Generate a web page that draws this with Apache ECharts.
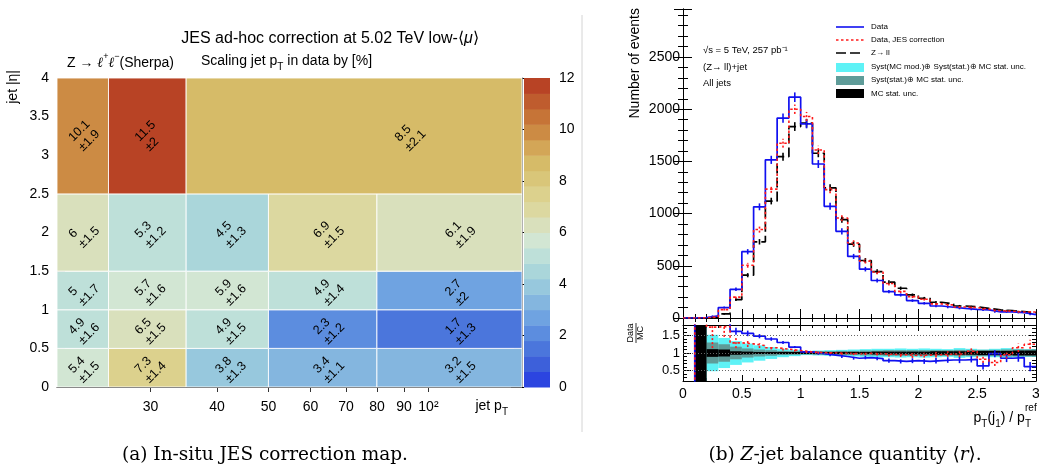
<!DOCTYPE html>
<html><head><meta charset="utf-8">
<script src="https://cdn.jsdelivr.net/npm/echarts@6/dist/echarts.min.js"></script>
<style>html,body{margin:0;padding:0;background:#fff}#c{width:1039px;height:473px}</style>
</head><body><div id="c"></div>
<script>
// ================= (a) JES ad-hoc correction map =================
const etaBinEdges = [0, 0.5, 1, 1.5, 2.5, 4];
const ptBinEdges = [20, 25, 35, 50, 80, 150];        // |eta| < 2.5 rows
const ptBinEdgesTop = [20, 25, 35, 150];             // 2.5 < |eta| < 4 row
const corrValue = [
  [5.4, 7.3, 3.8, 3.4, 3.2],
  [4.9, 6.5, 4.9, 2.3, 1.7],
  [5, 5.7, 5.9, 4.9, 2.7],
  [6, 5.3, 4.5, 6.9, 6.1],
  [10.1, 11.5, 8.5]
];
const corrError = [
  [1.5, 1.4, 1.3, 1.1, 1.5],
  [1.6, 1.5, 1.5, 1.2, 1.3],
  [1.7, 1.6, 1.6, 1.4, 2],
  [1.5, 1.2, 1.3, 1.5, 1.9],
  [1.9, 2, 2.1]
];
const ptTicks = [30, 40, 50, 60, 70, 80, 90, 100];
const colorLevels = [0, 0.6, 1.2, 1.8, 2.4, 3, 3.6, 4.2, 4.8, 5.4, 6, 6.6, 7.2, 7.8, 8.4, 9, 9.6, 10.2, 10.8, 11.4, 12];
const levelColors = ['#2c45e0', '#3d60da', '#4b76dc', '#5c8ddf', '#6fa3e1', '#84b6df', '#97c8dd', '#aad6da', '#bee0d9', '#d2e6d3',
  '#d9e0bc', '#dcd8a0', '#dcd18d', '#d9c679', '#d6bb68', '#d3a657', '#cc8b44', '#c67437', '#bf5c2e', '#b84325'];

// ================= (b) Z-jet balance =================
const rEdges = [0, 0.1, 0.2, 0.3, 0.4, 0.5, 0.6, 0.7, 0.8, 0.9, 1.0, 1.1, 1.2, 1.3, 1.4, 1.5, 1.6, 1.7, 1.8, 1.9, 2.0, 2.1, 2.2, 2.3, 2.4, 2.5, 2.6, 2.7, 2.8, 2.9, 3.0];
const dataEvents = [0, 5, 20, 100, 275, 635, 1065, 1515, 1915, 2115, 1860, 1475, 1070, 830, 590, 468, 359, 253, 221, 167, 141, 115, 103, 93, 83, 77, 58, 58, 51, 32];
const dataErr = [0, 3, 5, 10, 17, 25, 33, 39, 44, 46, 43, 38, 33, 29, 24, 22, 19, 16, 15, 13, 12, 11, 10, 10, 9, 9, 8, 8, 7, 6];
const jesEvents = [0, 2, 10, 80, 200, 505, 848, 1235, 1674, 2000, 1930, 1610, 1230, 958, 718, 545, 440, 330, 255, 205, 180, 135, 125, 105, 100, 85, 70, 65, 58, 58];
const jesErr = [0, 2, 4, 9, 15, 23, 30, 36, 42, 45, 44, 40, 35, 31, 27, 23, 21, 18, 16, 14, 13, 12, 11, 10, 10, 9, 8, 8, 8, 8];
const mcEvents = [0, 1, 5, 40, 176, 410, 730, 1120, 1545, 1834, 1866, 1578, 1247, 942, 708, 551, 445, 343, 285, 221, 189, 151, 135, 115, 107, 93, 77, 71, 61, 51];
const mcErr = [0, 1, 3, 8, 14, 20, 26, 32, 38, 42, 42, 38, 34, 30, 26, 23, 21, 18, 16, 14, 13, 12, 11, 10, 10, 9, 8, 8, 7, 7];
const ratioData = [0, 3, 3, 3, 1.62, 1.56, 1.48, 1.40, 1.30, 1.17, 1.03, 0.98, 0.94, 0.90, 0.85, 0.87, 0.84, 0.78, 0.76, 0.78, 0.76, 0.78, 0.80, 0.80, 0.82, 0.63, 0.98, 0.85, 0.87, 0.61];
const ratioDataErr = [0, 0, 0, 0, 0.1, 0.08, 0.06, 0.05, 0.04, 0.03, 0.03, 0.03, 0.03, 0.04, 0.04, 0.05, 0.05, 0.06, 0.06, 0.07, 0.07, 0.08, 0.08, 0.09, 0.09, 0.1, 0.1, 0.11, 0.12, 0.13];
const ratioJes = [0, 3, 1.74, 1.76, 1.29, 1.26, 1.21, 1.15, 1.11, 1.07, 1.03, 1.01, 1.0, 0.99, 0.98, 0.99, 0.98, 0.96, 0.95, 0.93, 0.94, 0.95, 0.97, 0.97, 1.05, 0.82, 0.73, 0.95, 1.15, 1.25];
const ratioJesErr = [0, 0, 0.6, 0.3, 0.15, 0.09, 0.07, 0.05, 0.04, 0.03, 0.03, 0.03, 0.03, 0.04, 0.04, 0.05, 0.05, 0.06, 0.06, 0.07, 0.07, 0.08, 0.08, 0.09, 0.09, 0.1, 0.1, 0.11, 0.12, 0.13];
const uncTotal = [0, 0.8, 0.52, 0.43, 0.34, 0.27, 0.22, 0.17, 0.12, 0.09, 0.06, 0.07, 0.08, 0.09, 0.1, 0.11, 0.12, 0.12, 0.13, 0.12, 0.13, 0.12, 0.11, 0.14, 0.12, 0.1, 0.12, 0.14, 0.12, 0.11];
const uncStat = [0, 0.8, 0.3, 0.25, 0.18, 0.13, 0.1, 0.08, 0.06, 0.05, 0.04, 0.05, 0.05, 0.06, 0.06, 0.07, 0.07, 0.08, 0.08, 0.08, 0.08, 0.08, 0.08, 0.09, 0.09, 0.09, 0.09, 0.1, 0.1, 0.1];
const uncMcStat = [0, 0.8, 0.11, 0.1, 0.05, 0.04, 0.03, 0.03, 0.03, 0.03, 0.03, 0.03, 0.03, 0.03, 0.03, 0.03, 0.04, 0.04, 0.04, 0.04, 0.04, 0.05, 0.05, 0.05, 0.05, 0.06, 0.06, 0.06, 0.07, 0.07];
const ratioTicks = [0.5, 1, 1.5];
const ratioMinorTicks = [0.3, 0.4, 0.6, 0.7, 0.8, 0.9, 1.1, 1.2, 1.3, 1.4, 1.6, 1.7];

// ---------------- build helpers ----------------
const FONT = '"Liberation Sans", Arial, Helvetica, sans-serif';
const SERIF = '"DejaVu Serif", "Liberation Serif", serif';
const C_BLUE = '#1010f0', C_RED = '#ff1a1a', C_CYAN = '#5ef2f6', C_TEAL = '#5f9c99';

const heatCells = [];
corrValue.forEach((row, r) => {
  const edges = r === 4 ? ptBinEdgesTop : ptBinEdges;
  row.forEach((v, c) => heatCells.push([edges[c], edges[c + 1], etaBinEdges[r], etaBinEdges[r + 1], v, corrError[r][c]]));
});
const barCells = levelColors.map((_, i) => [0, 1, colorLevels[i], colorLevels[i + 1], (colorLevels[i] + colorLevels[i + 1]) / 2]);
const pieces = levelColors.map((col, i) => ({ gte: colorLevels[i], lt: colorLevels[i + 1], color: col }));
pieces[pieces.length - 1].lte = colorLevels[colorLevels.length - 1]; delete pieces[pieces.length - 1].lt;

function histPts(vals) {
  return vals.map((v, i) => [rEdges[i], v]).concat([[rEdges[rEdges.length - 1], vals[vals.length - 1]]]);
}
function errPts(vals, errs, lo, hi) {
  const out = [];
  vals.forEach((v, i) => {
    if (!errs[i]) return;
    const a = v - errs[i], b = v + errs[i];
    if (b < lo || a > hi) return;
    out.push([(rEdges[i] + rEdges[i + 1]) / 2, Math.max(a, lo), Math.min(b, hi)]);
  });
  return out;
}
function bandCells(hw) {
  const out = [];
  hw.forEach((h, i) => { if (h > 0) out.push([rEdges[i], rEdges[i + 1], 1 - h, 1 + h]); });
  return out;
}
function errSeries(data, color, xi, yi, dash) {
  return {
    type: 'custom', xAxisIndex: xi, yAxisIndex: yi, data: data, clip: true, z: 5,
    encode: { x: 0, y: [1, 2] }, silent: true,
    renderItem: (p, api) => {
      const a = api.coord([api.value(0), api.value(1)]), b = api.coord([api.value(0), api.value(2)]);
      return { type: 'line', shape: { x1: a[0], y1: a[1], x2: b[0], y2: b[1] },
        style: { stroke: color, lineWidth: 1.6, lineDash: dash || null } };
    }
  };
}
function bandSeries(hw, color, z) {
  return {
    type: 'custom', xAxisIndex: 5, yAxisIndex: 5, data: bandCells(hw), z: z, silent: true,
    encode: { x: [0, 1], y: [2, 3] },
    renderItem: (p, api) => {
      const a = api.coord([api.value(0), api.value(2)]), b = api.coord([api.value(1), api.value(3)]);
      return { type: 'rect', shape: { x: a[0], y: b[1], width: b[0] - a[0], height: a[1] - b[1] }, style: { fill: color } };
    }
  };
}
const tk = (len, show) => ({ show: show !== false, inside: true, length: len, lineStyle: { color: '#000', width: 1 } });
const noLbl = { show: false };
const noSplit = { show: false };
const plain = v => String(v);
function valAxis(o) {
  return Object.assign({ type: 'value', splitLine: noSplit, minorSplitLine: noSplit, axisLabel: noLbl,
    axisLine: { show: true, lineStyle: { color: '#000', width: 1 } } }, o);
}
const SUBRICH = (fs, lh) => ({
  n: { fontSize: fs, lineHeight: lh, verticalAlign: 'top', fontFamily: FONT, fill: '#000' },
  s: { fontSize: Math.round(fs * 0.7), lineHeight: Math.round(fs * 0.75), verticalAlign: 'bottom', fontFamily: FONT, fill: '#000' }
});

// ---------------- option ----------------
const option = {
  animation: false,
  backgroundColor: '#fff',
  textStyle: { fontFamily: FONT, color: '#000' },
  grid: [
    { left: 57, top: 78, width: 465, height: 309, outerBoundsMode: 'none', containLabel: false },
    { left: 524, top: 78, width: 26, height: 309, outerBoundsMode: 'none', containLabel: false },
    { left: 683, top: 9, width: 353, height: 309, outerBoundsMode: 'none', containLabel: false },
    { left: 683, top: 325, width: 353, height: 56, outerBoundsMode: 'none', containLabel: false }
  ],
  visualMap: {
    type: 'piecewise', show: false, seriesIndex: [0, 1], dimension: 4, pieces: pieces
  },
  xAxis: [
    { type: 'log', logBase: 10, gridIndex: 0, min: 20, max: 150, position: 'bottom',
      axisLine: { show: false }, splitLine: noSplit, minorTick: { show: false },
      axisTick: Object.assign(tk(5), { customValues: ptTicks, lineStyle: { color: '#333' } }),
      axisLabel: { show: true, customValues: ptTicks, fontSize: 14, color: '#000', margin: 13, fontFamily: FONT,
        formatter: v => (Math.abs(v - 100) < 1e-6 ? '10²' : String(Math.round(v))) } },
    { type: 'log', logBase: 10, gridIndex: 0, min: 20, max: 150, position: 'top',
      axisLine: { show: true, lineStyle: { color: '#333' } }, splitLine: noSplit, minorTick: { show: false },
      axisTick: Object.assign(tk(5), { customValues: ptTicks, lineStyle: { color: '#333' } }),
      axisLabel: noLbl },
    { type: 'value', gridIndex: 1, min: 0, max: 1, show: false },
    valAxis({ gridIndex: 2, min: 0, max: 3, interval: 0.5, position: 'bottom', axisTick: tk(9), minorTick: Object.assign(tk(4), { splitNumber: 5 }) }),
    valAxis({ gridIndex: 2, min: 0, max: 3, interval: 0.5, position: 'top', axisTick: tk(9), minorTick: Object.assign(tk(4), { splitNumber: 5 }) }),
    valAxis({ gridIndex: 3, min: 0, max: 3, interval: 0.5, position: 'bottom', axisTick: tk(6), minorTick: Object.assign(tk(3), { splitNumber: 5 }),
      axisLabel: { show: true, fontSize: 14, color: '#000', margin: 6, fontFamily: FONT, formatter: plain } }),
    valAxis({ gridIndex: 3, min: 0, max: 3, interval: 0.5, position: 'top', axisTick: tk(6), minorTick: Object.assign(tk(3), { splitNumber: 5 }) })
  ],
  yAxis: [
    valAxis({ gridIndex: 0, min: 0, max: 4, interval: 0.5, position: 'left', axisLine: { show: false },
      axisTick: Object.assign(tk(8), { lineStyle: { color: '#333' } }), minorTick: Object.assign(tk(4), { splitNumber: 5, lineStyle: { color: '#333' } }),
      axisLabel: { show: true, fontSize: 14, color: '#000', margin: 8, fontFamily: FONT, formatter: plain } }),
    valAxis({ gridIndex: 0, min: 0, max: 4, interval: 0.5, position: 'right', axisLine: { show: true, lineStyle: { color: '#777' } },
      axisTick: Object.assign(tk(8), { lineStyle: { color: '#333' } }), minorTick: Object.assign(tk(4), { splitNumber: 5, lineStyle: { color: '#333' } }) }),
    valAxis({ gridIndex: 1, min: 0, max: 12, interval: 2, position: 'right', axisLine: { show: false },
      axisTick: Object.assign(tk(13), { lineStyle: { color: '#000' } }), minorTick: { show: false },
      axisLabel: { show: true, fontSize: 14, color: '#000', margin: 9, fontFamily: FONT, formatter: plain } }),
    valAxis({ gridIndex: 2, min: 0, max: 2960, interval: 500, position: 'left', axisTick: tk(9), minorTick: Object.assign(tk(5), { splitNumber: 5 }),
      axisLabel: { show: true, fontSize: 14, color: '#000', margin: 3, showMaxLabel: false, fontFamily: FONT, formatter: plain } }),
    valAxis({ gridIndex: 2, min: 0, max: 2960, interval: 500, position: 'right', axisTick: tk(9), minorTick: Object.assign(tk(5), { splitNumber: 5 }) }),
    valAxis({ gridIndex: 3, min: 0.2, max: 1.8, position: 'left',
      axisTick: Object.assign(tk(8), { customValues: ratioTicks }), minorTick: { show: false },
      axisLabel: { show: true, customValues: ratioTicks, fontSize: 13, color: '#000', margin: 3, fontFamily: FONT, formatter: plain } }),
    valAxis({ gridIndex: 3, min: 0.2, max: 1.8, position: 'left', axisLine: { show: false },
      axisTick: Object.assign(tk(4), { customValues: ratioMinorTicks }), minorTick: { show: false } }),
    valAxis({ gridIndex: 3, min: 0.2, max: 1.8, position: 'right',
      axisTick: Object.assign(tk(8), { customValues: ratioTicks }), minorTick: { show: false } }),
    valAxis({ gridIndex: 3, min: 0.2, max: 1.8, position: 'right', axisLine: { show: false },
      axisTick: Object.assign(tk(4), { customValues: ratioMinorTicks }), minorTick: { show: false } })
  ],
  series: [
    { // 0: correction map cells
      type: 'custom', name: 'JES correction', xAxisIndex: 0, yAxisIndex: 0, data: heatCells, silent: true,
      encode: { x: [0, 1], y: [2, 3] },
      renderItem: (p, api) => {
        const x0 = api.value(0), x1 = api.value(1), y0 = api.value(2), y1 = api.value(3);
        const a = api.coord([x0, y0]), b = api.coord([x1, y1]);
        const c = api.coord([(x0 + x1) / 2, (y0 + y1) / 2]);
        return { type: 'group', children: [
          { type: 'rect', shape: { x: a[0], y: b[1], width: b[0] - a[0], height: a[1] - b[1] },
            style: { fill: api.visual('color'), stroke: 'rgba(255,255,255,0.85)', lineWidth: 1 } },
          { type: 'text', x: c[0], y: c[1], rotation: Math.PI / 4, z2: 10,
            style: { text: String(api.value(4)) + '\n±' + String(api.value(5)), x: -12, y: 0,
              align: 'left', verticalAlign: 'middle', fontSize: 12.5, lineHeight: 14, fill: '#000', fontFamily: FONT } }
        ] };
      }
    },
    { // 1: colour bar
      type: 'custom', name: 'colour scale', xAxisIndex: 2, yAxisIndex: 2, data: barCells, silent: true,
      encode: { x: [0, 1], y: [2, 3] },
      renderItem: (p, api) => {
        const a = api.coord([api.value(0), api.value(2)]), b = api.coord([api.value(1), api.value(3)]);
        return { type: 'rect', shape: { x: a[0], y: b[1], width: b[0] - a[0], height: a[1] - b[1] + 0.5 }, style: { fill: api.visual('color') } };
      }
    },
    // 2-4: main histograms
    { type: 'line', name: 'Z→ ll', xAxisIndex: 3, yAxisIndex: 3, data: histPts(mcEvents), step: 'end', symbol: 'none', z: 3,
      lineStyle: { color: '#000', width: 1.7, type: [10, 4] } },
    { type: 'line', name: 'Data', xAxisIndex: 3, yAxisIndex: 3, data: histPts(dataEvents), step: 'end', symbol: 'none', z: 4,
      lineStyle: { color: C_BLUE, width: 1.7 } },
    { type: 'line', name: 'Data, JES correction', xAxisIndex: 3, yAxisIndex: 3, data: histPts(jesEvents), step: 'end', symbol: 'none', z: 4,
      lineStyle: { color: C_RED, width: 1.6, type: [2.5, 2.5] } },
    errSeries(errPts(mcEvents, mcErr, 0, 2960), '#000', 3, 3),
    errSeries(errPts(dataEvents, dataErr, 0, 2960), C_BLUE, 3, 3),
    errSeries(errPts(jesEvents, jesErr, 0, 2960), C_RED, 3, 3, [2, 2]),
    // ratio panel
    { type: 'line', xAxisIndex: 5, yAxisIndex: 5, data: [], symbol: 'none', z: 1, silent: true,
      markLine: { silent: true, symbol: 'none', label: { show: false }, lineStyle: { color: '#666', width: 1, type: [1, 2] },
        data: [{ yAxis: 0.5 }, { yAxis: 1 }, { yAxis: 1.5 }] } },
    bandSeries(uncTotal, C_CYAN, 2),
    bandSeries(uncStat, C_TEAL, 2),
    bandSeries(uncMcStat, '#000', 2),
    { type: 'line', xAxisIndex: 5, yAxisIndex: 5, data: histPts(ratioData), step: 'end', symbol: 'none', z: 4,
      lineStyle: { color: C_BLUE, width: 1.7 } },
    { type: 'line', xAxisIndex: 5, yAxisIndex: 5, data: histPts(ratioJes), step: 'end', symbol: 'none', z: 4,
      lineStyle: { color: C_RED, width: 1.6, type: [2.5, 2.5] } },
    errSeries(errPts(ratioData, ratioDataErr, 0.2, 1.8), C_BLUE, 5, 5),
    errSeries(errPts(ratioJes, ratioJesErr, 0.2, 1.8), C_RED, 5, 5, [2, 2])
  ],
  graphic: [
    // ---- left panel texts ----
    { type: 'text', x: 330, y: 39, style: { text: '{n|JES ad-hoc correction at 5.02 TeV low-⟨}{i|μ}{n|⟩}', align: 'center', verticalAlign: 'middle',
      rich: { n: { fontSize: 16, fontFamily: FONT, fill: '#000' }, i: { fontSize: 16, fontFamily: FONT, fontStyle: 'italic', fill: '#000' } } } },
    { type: 'text', x: 67, y: 61, style: { text: '{n|Z → }{l|ℓ}{p|+}{l|ℓ}{p|−}{n|(Sherpa)}', align: 'left', verticalAlign: 'middle',
      rich: { n: { fontSize: 14, lineHeight: 18, verticalAlign: 'bottom', fontFamily: FONT, fill: '#000' },
              l: { fontSize: 14, lineHeight: 18, verticalAlign: 'bottom', fontFamily: 'DejaVu Serif', fontStyle: 'italic', fill: '#000' },
              p: { fontSize: 9, lineHeight: 9, verticalAlign: 'top', fontFamily: FONT, fill: '#000' } } } },
    { type: 'text', x: 201, y: 54, style: { text: '{n|Scaling jet p}{s|T}{n| in data by [%]}', align: 'left', verticalAlign: 'top', rich: SUBRICH(14, 18) } },
    { type: 'text', x: 13, y: 70, rotation: Math.PI / 2, style: { text: 'jet |η|', align: 'right', verticalAlign: 'middle', fontSize: 14, fontFamily: FONT, fill: '#000' } },
    { type: 'text', x: 508, y: 399, style: { text: '{n|jet p}{s|T}', align: 'right', verticalAlign: 'top', rich: SUBRICH(14, 18) } },
    // divider
    { type: 'line', shape: { x1: 582, y1: 15, x2: 582, y2: 432 }, style: { stroke: '#d4d4d4', lineWidth: 1 } },
    // ---- right panel texts ----
    { type: 'text', x: 635, y: 8, rotation: Math.PI / 2, style: { text: 'Number of events', align: 'right', verticalAlign: 'middle', fontSize: 14, fontFamily: FONT, fill: '#000' } },
    { type: 'group', x: 636, y: 333, rotation: Math.PI / 2, children: [
      { type: 'text', x: 0, y: -5, style: { text: 'Data', align: 'center', verticalAlign: 'middle', fontSize: 9, fontFamily: FONT, fill: '#000' } },
      { type: 'line', shape: { x1: -10, y1: 0, x2: 10, y2: 0 }, style: { stroke: '#000', lineWidth: 0.8 } },
      { type: 'text', x: 0, y: 5, style: { text: 'MC', align: 'center', verticalAlign: 'middle', fontSize: 9, fontFamily: FONT, fill: '#000' } }
    ] },
    { type: 'text', x: 1031, y: 411, style: { text: '{n|p}{s|T}{n|(j}{s|1}{n|) / p}{s|T}', align: 'right', verticalAlign: 'top', rich: SUBRICH(14, 18) } },
    { type: 'text', x: 1025, y: 408, style: { text: 'ref', align: 'left', verticalAlign: 'middle', fontSize: 10, fontFamily: FONT, fill: '#000' } },
    { type: 'text', x: 703, y: 50, style: { text: '√s = 5 TeV, 257 pb⁻¹', align: 'left', verticalAlign: 'middle', fontSize: 9.5, fontFamily: FONT, fill: '#000' } },
    { type: 'text', x: 703, y: 67, style: { text: '(Z→ ll)+jet', align: 'left', verticalAlign: 'middle', fontSize: 9.5, fontFamily: FONT, fill: '#000' } },
    { type: 'text', x: 703, y: 83, style: { text: 'All jets', align: 'left', verticalAlign: 'middle', fontSize: 9.5, fontFamily: FONT, fill: '#000' } },
    // legend
    { type: 'line', shape: { x1: 836, y1: 27, x2: 864, y2: 27 }, style: { stroke: C_BLUE, lineWidth: 1.6 } },
    { type: 'line', shape: { x1: 836, y1: 40, x2: 864, y2: 40 }, style: { stroke: C_RED, lineWidth: 1.6, lineDash: [2.5, 2.5] } },
    { type: 'line', shape: { x1: 836, y1: 53, x2: 864, y2: 53 }, style: { stroke: '#000', lineWidth: 1.6, lineDash: [10, 4] } },
    { type: 'rect', shape: { x: 836, y: 63, width: 28, height: 9 }, style: { fill: C_CYAN } },
    { type: 'rect', shape: { x: 836, y: 76, width: 28, height: 9 }, style: { fill: C_TEAL } },
    { type: 'rect', shape: { x: 836, y: 89, width: 28, height: 9 }, style: { fill: '#000' } },
    { type: 'text', x: 871, y: 27, style: { text: 'Data', verticalAlign: 'middle', fontSize: 8, fontFamily: FONT, fill: '#000' } },
    { type: 'text', x: 871, y: 40, style: { text: 'Data, JES correction', verticalAlign: 'middle', fontSize: 8, fontFamily: FONT, fill: '#000' } },
    { type: 'text', x: 871, y: 53, style: { text: 'Z→ ll', verticalAlign: 'middle', fontSize: 8, fontFamily: FONT, fill: '#000' } },
    { type: 'text', x: 871, y: 67, style: { text: 'Syst(MC mod.)⊕ Syst(stat.)⊕ MC stat. unc.', verticalAlign: 'middle', fontSize: 8, fontFamily: FONT, fill: '#000' } },
    { type: 'text', x: 871, y: 80, style: { text: 'Syst(stat.)⊕ MC stat. unc.', verticalAlign: 'middle', fontSize: 8, fontFamily: FONT, fill: '#000' } },
    { type: 'text', x: 871, y: 94, style: { text: 'MC stat. unc.', verticalAlign: 'middle', fontSize: 8, fontFamily: FONT, fill: '#000' } },
    // captions
    { type: 'text', x: 265, y: 455, style: { text: '(a) In-situ JES correction map.', align: 'center', verticalAlign: 'middle', fontSize: 18.5, fontFamily: SERIF, fill: '#000' } },
    { type: 'text', x: 845, y: 455, style: { text: '{n|(b) }{i|Z}{n|-jet balance quantity ⟨}{i|r}{n|⟩.}', align: 'center', verticalAlign: 'middle',
      rich: { n: { fontSize: 18.5, fontFamily: SERIF, fill: '#000' }, i: { fontSize: 18.5, fontFamily: SERIF, fontStyle: 'italic', fill: '#000' } } } }
  ]
};
const chart = echarts.init(document.getElementById('c'), null, { renderer: 'canvas', width: 1039, height: 473 });
chart.setOption(option);
</script>
</body></html>
